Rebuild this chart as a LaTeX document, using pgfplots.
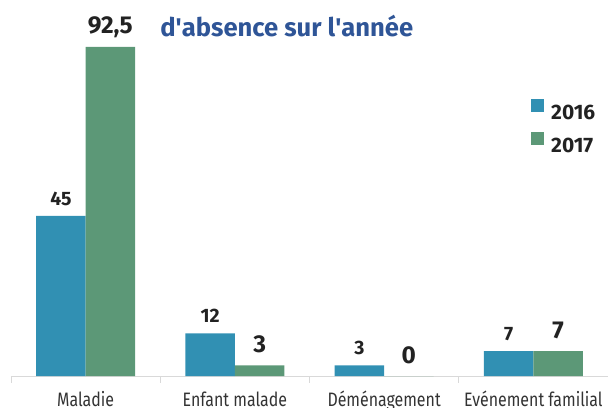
\documentclass[border=0pt]{standalone}
\usepackage{pgfplots}
\pgfplotsset{compat=1.18}
\usepackage{fontspec}
\setmainfont{Fira Sans}
\newfontfamily\condfont{Fira Sans}[FakeStretch=0.82]

\definecolor{bleu}{HTML}{3190B3}
\definecolor{vert}{HTML}{5C9877}
\definecolor{titre}{HTML}{2F5597}
\definecolor{encre}{HTML}{222222}
\definecolor{gris}{HTML}{333333}
\definecolor{trait}{HTML}{D9D9D9}

\begin{document}
\begin{tikzpicture}
\begin{axis}[
    name=ax,
    scale only axis,
    width=597bp, height=376bp,
    xmin=-0.5, xmax=3.5, ymin=0, ymax=105.71,
    ybar=0pt, bar width=49.5bp,
    axis x line=bottom, axis y line=none,
    x axis line style={-, draw=trait, line width=0.8bp},
    ytick=\empty,
    xtick={0,1,2,3},
    xticklabels={Maladie, Enfant malade, Déménagement, Evénement familial},
    minor xtick={-0.5,0.5,1.5,2.5,3.5},
    major tick length=0pt, minor tick length=7bp,
    tick align=outside,
    minor tick style={draw=trait, line width=0.8bp},
    xticklabel style={font=\condfont\fontsize{19.5}{22}\selectfont, text=gris,
        anchor=base, inner sep=0pt, yshift=-30bp},
    clip=false,
    /pgf/number format/use comma,
    /pgf/number format/assume math mode=true,
    nodes near coords,
    legend style={at={(0.871,0.737)}, anchor=north west, draw=none, fill=none,
        inner sep=0pt, row sep=11bp, text=encre,
        font=\bfseries\fontsize{21}{21}\selectfont,
        nodes={inner sep=0pt},
        /tikz/every odd column/.append style={column sep=7bp}},
    legend cell align=left,
    legend image code/.code={\fill[#1] (0bp,1bp) rectangle (13bp,14bp);},
]
\addplot[fill=bleu, draw=none,
    nodes near coords style={font=\bfseries\fontsize{19.5}{20}\selectfont,
        text=encre, anchor=base, inner sep=0pt, yshift=10.5bp}]
    coordinates {(0,45) (1,12) (2,3) (3,7)};
\addlegendentry{2016}
\addplot[fill=vert, draw=none,
    nodes near coords style={font=\bfseries\fontsize{24.5}{25}\selectfont,
        text=encre, anchor=base, inner sep=0pt, yshift=13bp}]
    coordinates {(0,92.5) (1,3) (2,0) (3,7)};
\addlegendentry{2017}

\node[font=\bfseries\fontsize{25.7}{26}\selectfont, text=titre, anchor=base]
    at (rel axis cs:0.462,0.9016) {d\textquotesingle absence sur l\textquotesingle année};
\end{axis}
\pgfresetboundingbox
\path[use as bounding box] ([shift={(-11bp,-32bp)}]ax.south west) rectangle (ax.north east);
\end{tikzpicture}
\end{document}
